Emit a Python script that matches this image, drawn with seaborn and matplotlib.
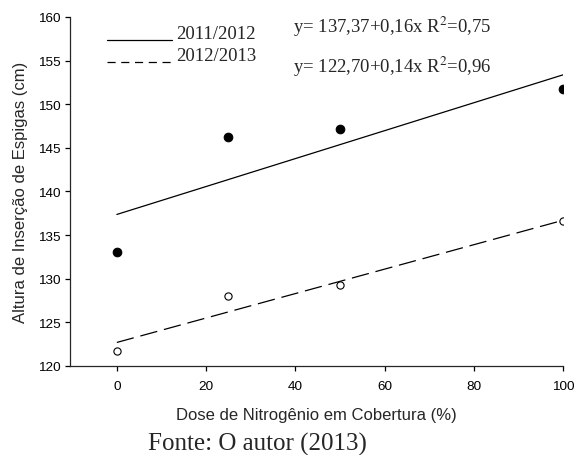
import numpy as np
import pandas as pd
import matplotlib
matplotlib.use("Agg")
import matplotlib.pyplot as plt
import seaborn as sns

# Nitrogen dose (%) and ear insertion height (cm) per season
doses = [0, 25, 50, 100]
altura_2011 = [133.1, 146.2, 147.2, 151.8]
altura_2012 = [121.7, 128.0, 129.3, 136.6]
safras = ["2011/2012", "2012/2013"]

# Fitted linear models (intercept, slope, R²)
intercepts = [137.37, 122.70]
slopes = [0.16, 0.14]
r2 = [0.75, 0.96]

x_ticks = [0, 20, 40, 60, 80, 100]
y_ticks = [120, 125, 130, 135, 140, 145, 150, 155, 160]

sns.set_style("ticks")
plt.rcParams["font.family"] = ["Liberation Sans", "DejaVu Sans"]

fig = plt.figure(figsize=(5.77, 4.56), dpi=100)
ax = fig.add_axes([70 / 577, 1 - 367 / 456, (563 - 70) / 577, (367 - 18) / 456])

pts = pd.DataFrame({
    "dose": doses * 2,
    "altura": altura_2011 + altura_2012,
    "safra": [safras[0]] * 4 + [safras[1]] * 4,
})

# Regression lines
xfit = np.array([min(doses), max(doses)], dtype=float)
fits = pd.DataFrame({
    "dose": np.concatenate([xfit, xfit]),
    "altura": np.concatenate([intercepts[0] + slopes[0] * xfit,
                              intercepts[1] + slopes[1] * xfit]),
    "safra": [safras[0]] * 2 + [safras[1]] * 2,
})
sns.lineplot(data=fits[fits.safra == safras[0]], x="dose", y="altura",
             color="black", lw=0.9, ax=ax, legend=False)
sns.lineplot(data=fits[fits.safra == safras[1]], x="dose", y="altura",
             color="black", lw=0.9, ax=ax, legend=False)
ax.lines[1].set_dashes([14, 5.5])

sns.scatterplot(data=pts[pts.safra == safras[0]], x="dose", y="altura",
                color="black", edgecolor="black", s=38, linewidth=0.8,
                ax=ax, legend=False, zorder=3)
sns.scatterplot(data=pts[pts.safra == safras[1]], x="dose", y="altura",
                facecolor="white", edgecolor="black", s=27, linewidth=0.8,
                ax=ax, legend=False, zorder=3)

ax.set_xlim(-10.5, 100)
ax.set_ylim(120, 160)
ax.set_xticks(x_ticks)
ax.set_yticks(y_ticks)
sns.despine(ax=ax)
for s in ["left", "bottom"]:
    ax.spines[s].set_linewidth(0.9)
ax.tick_params(axis="both", labelsize=9.7, length=3.6, width=0.9,
               color="black", labelcolor="black")
ax.tick_params(axis="x", pad=6.5)
ax.tick_params(axis="y", pad=3)
ax.set_xlabel("Dose de Nitrogênio em Cobertura (%)", fontsize=12, labelpad=11)
ax.set_ylabel("Altura de Inserção de Espigas (cm)", fontsize=12, labelpad=7)

# Legend drawn as line samples with serif labels
serif = ["Liberation Serif", "DejaVu Serif"]
leg_line_y = [41, 63]
leg_text_y = [39, 61]
for i, name in enumerate(safras):
    yy = 1 - leg_line_y[i] / 456
    ln = plt.Line2D([107 / 577, 172 / 577], [yy, yy], transform=fig.transFigure,
                    color="black", lw=0.9)
    if i == 1:
        ln.set_dashes([6.5, 4.5])
    fig.add_artist(ln)
    fig.text(176 / 577, 1 - leg_text_y[i] / 456, name, family=serif,
             fontsize=13.5, va="baseline", ha="left")

# Regression equations
eq_y = [33, 73]
for i in range(2):
    txt = (f"y= {intercepts[i]:.2f}+{slopes[i]:.2f}x R$^2$={r2[i]:.2f}"
           .replace(".", ","))
    fig.text(293 / 577, 1 - eq_y[i] / 456, txt, family=serif, fontsize=13.5,
             va="baseline", ha="left", math_fontfamily="stix")

fig.text(148 / 577, 1 - 451 / 456, "Fonte: O autor (2013)", family=serif,
         fontsize=18, va="baseline", ha="left")

fig.savefig("out.png", dpi=100, facecolor="white")
